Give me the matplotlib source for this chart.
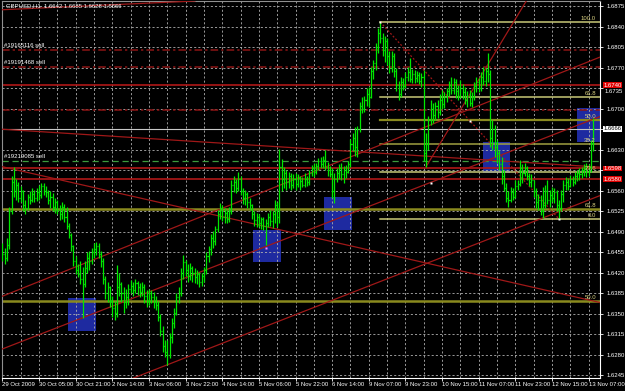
import numpy as np
import matplotlib
matplotlib.use("Agg")
import matplotlib.pyplot as plt
from matplotlib.collections import LineCollection
from matplotlib.patches import Rectangle
from matplotlib.transforms import blended_transform_factory, offset_copy

# ---------------- data ----------------
title_text = "GBPUSD,H1  1.6642 1.6685 1.6628 1.6666"
first_open = 1.6460

close = [
 1.6452,1.6445,1.6468,1.6525,1.6575,1.6560,1.6570,1.6548,1.6560,1.6535,
 1.6530,1.6550,1.6545,1.6555,1.6548,1.6558,1.6552,1.6568,1.6560,1.6558,
 1.6545,1.6550,1.6532,1.6540,1.6528,1.6520,1.6532,1.6515,1.6500,1.6485,
 1.6465,1.6440,1.6425,1.6418,1.6410,1.6400,1.6428,1.6445,1.6440,1.6455,
 1.6460,1.6465,1.6452,1.6440,1.6410,1.6385,1.6395,1.6372,1.6360,1.6352,
 1.6395,1.6400,1.6385,1.6370,1.6378,1.6392,1.6398,1.6390,1.6402,1.6395,
 1.6388,1.6395,1.6380,1.6372,1.6385,1.6378,1.6370,1.6365,1.6345,1.6320,
 1.6295,1.6285,1.6280,1.6310,1.6335,1.6352,1.6378,1.6385,1.6420,1.6438,
 1.6425,1.6415,1.6428,1.6420,1.6412,1.6418,1.6405,1.6415,1.6425,1.6448,
 1.6460,1.6480,1.6475,1.6495,1.6520,1.6530,1.6515,1.6522,1.6512,1.6525,
 1.6570,1.6575,1.6565,1.6580,1.6560,1.6548,1.6555,1.6540,1.6535,1.6520,
 1.6510,1.6515,1.6505,1.6512,1.6500,1.6505,1.6515,1.6508,1.6520,1.6535,
 1.6515,1.6600,1.6580,1.6590,1.6575,1.6585,1.6570,1.6580,1.6572,1.6582,
 1.6576,1.6570,1.6580,1.6575,1.6590,1.6598,1.6592,1.6602,1.6610,1.6605,
 1.6612,1.6600,1.6595,1.6588,1.6560,1.6580,1.6590,1.6598,1.6588,1.6595,
 1.6592,1.6605,1.6640,1.6650,1.6635,1.6665,1.6705,1.6700,1.6715,1.6725,
 1.6720,1.6765,1.6778,1.6805,1.6830,1.6820,1.6800,1.6815,1.6790,1.6770,
 1.6790,1.6765,1.6740,1.6725,1.6745,1.6738,1.6755,1.6762,1.6750,1.6760,
 1.6752,1.6758,1.6748,1.6755,1.6625,1.6640,1.6680,1.6700,1.6690,1.6705,
 1.6695,1.6715,1.6708,1.6720,1.6730,1.6740,1.6732,1.6745,1.6730,1.6722,
 1.6735,1.6728,1.6715,1.6722,1.6710,1.6720,1.6738,1.6745,1.6735,1.6755,
 1.6748,1.6765,1.6760,1.6650,1.6665,1.6635,1.6625,1.6605,1.6585,1.6565,
 1.6548,1.6545,1.6558,1.6550,1.6568,1.6572,1.6598,1.6590,1.6598,1.6585,
 1.6575,1.6578,1.6560,1.6540,1.6545,1.6525,1.6535,1.6560,1.6545,1.6552,
 1.6548,1.6558,1.6535,1.6530,1.6555,1.6570,1.6575,1.6568,1.6580,1.6575,
 1.6585,1.6590,1.6588,1.6595,1.6598,1.6592,1.6600,1.6642,1.6666]

high = [
 1.6470,1.6462,1.6480,1.6533,1.6585,1.6600,1.6580,1.6575,1.6568,1.6562,
 1.6545,1.6555,1.6560,1.6565,1.6562,1.6565,1.6570,1.6573,1.6574,1.6568,
 1.6562,1.6560,1.6556,1.6548,1.6545,1.6535,1.6540,1.6538,1.6532,1.6505,
 1.6488,1.6468,1.6448,1.6435,1.6440,1.6430,1.6440,1.6455,1.6458,1.6462,
 1.6470,1.6473,1.6470,1.6458,1.6445,1.6415,1.6405,1.6398,1.6380,1.6372,
 1.6433,1.6420,1.6405,1.6395,1.6392,1.6400,1.6408,1.6405,1.6410,1.6406,
 1.6402,1.6404,1.6400,1.6390,1.6392,1.6390,1.6388,1.6380,1.6372,1.6350,
 1.6330,1.6305,1.6305,1.6318,1.6342,1.6360,1.6385,1.6395,1.6428,1.6450,
 1.6442,1.6435,1.6437,1.6432,1.6428,1.6425,1.6422,1.6420,1.6430,1.6455,
 1.6466,1.6486,1.6492,1.6500,1.6528,1.6539,1.6535,1.6530,1.6528,1.6532,
 1.6578,1.6586,1.6580,1.6592,1.6585,1.6565,1.6561,1.6558,1.6548,1.6538,
 1.6525,1.6522,1.6520,1.6516,1.6515,1.6512,1.6522,1.6527,1.6526,1.6544,
 1.6540,1.6631,1.6615,1.6601,1.6596,1.6592,1.6590,1.6588,1.6590,1.6588,
 1.6586,1.6584,1.6590,1.6586,1.6595,1.6604,1.6607,1.6608,1.6616,1.6618,
 1.6620,1.6630,1.6609,1.6602,1.6598,1.6590,1.6598,1.6605,1.6607,1.6602,
 1.6604,1.6610,1.6648,1.6659,1.6668,1.6670,1.6712,1.6720,1.6722,1.6735,
 1.6737,1.6772,1.6784,1.6812,1.6838,1.6848,1.6830,1.6825,1.6820,1.6798,
 1.6798,1.6795,1.6770,1.6748,1.6754,1.6752,1.6762,1.6771,1.6787,1.6768,
 1.6766,1.6764,1.6762,1.6761,1.6766,1.6659,1.6688,1.6715,1.6710,1.6712,
 1.6715,1.6725,1.6732,1.6728,1.6735,1.6748,1.6754,1.6752,1.6750,1.6740,
 1.6749,1.6742,1.6737,1.6730,1.6732,1.6728,1.6745,1.6754,1.6752,1.6762,
 1.6771,1.6770,1.6795,1.6766,1.6681,1.6672,1.6647,1.6630,1.6618,1.6595,
 1.6573,1.6560,1.6566,1.6565,1.6578,1.6578,1.6612,1.6606,1.6607,1.6603,
 1.6590,1.6588,1.6578,1.6565,1.6555,1.6552,1.6566,1.6570,1.6578,1.6562,
 1.6566,1.6564,1.6561,1.6545,1.6562,1.6578,1.6583,1.6582,1.6587,1.6586,
 1.6592,1.6595,1.6598,1.6601,1.6605,1.6607,1.6606,1.6647,1.6685]

low = [
 1.6440,1.6435,1.6440,1.6460,1.6520,1.6550,1.6545,1.6540,1.6540,1.6525,
 1.6520,1.6528,1.6538,1.6540,1.6540,1.6542,1.6545,1.6548,1.6552,1.6550,
 1.6538,1.6530,1.6525,1.6522,1.6520,1.6510,1.6512,1.6506,1.6495,1.6480,
 1.6458,1.6432,1.6418,1.6412,1.6400,1.6343,1.6395,1.6420,1.6425,1.6435,
 1.6445,1.6450,1.6445,1.6430,1.6400,1.6375,1.6370,1.6362,1.6345,1.6340,
 1.6345,1.6380,1.6370,1.6352,1.6360,1.6365,1.6385,1.6380,1.6385,1.6382,
 1.6378,1.6380,1.6368,1.6362,1.6365,1.6368,1.6360,1.6357,1.6338,1.6312,
 1.6285,1.6276,1.6263,1.6275,1.6300,1.6325,1.6348,1.6368,1.6380,1.6410,
 1.6415,1.6405,1.6408,1.6405,1.6402,1.6400,1.6396,1.6398,1.6405,1.6418,
 1.6438,1.6450,1.6462,1.6468,1.6490,1.6512,1.6508,1.6505,1.6505,1.6506,
 1.6520,1.6558,1.6556,1.6560,1.6552,1.6538,1.6535,1.6530,1.6527,1.6512,
 1.6500,1.6498,1.6498,1.6495,1.6493,1.6467,1.6498,1.6500,1.6496,1.6505,
 1.6498,1.6505,1.6560,1.6565,1.6562,1.6565,1.6562,1.6565,1.6561,1.6566,
 1.6562,1.6566,1.6566,1.6568,1.6570,1.6585,1.6584,1.6588,1.6596,1.6598,
 1.6598,1.6595,1.6585,1.6583,1.6548,1.6539,1.6575,1.6580,1.6578,1.6574,
 1.6582,1.6590,1.6600,1.6628,1.6620,1.6618,1.6660,1.6693,1.6695,1.6705,
 1.6703,1.6718,1.6750,1.6766,1.6795,1.6812,1.6790,1.6780,1.6775,1.6761,
 1.6762,1.6754,1.6730,1.6715,1.6720,1.6732,1.6735,1.6748,1.6745,1.6744,
 1.6744,1.6745,1.6742,1.6737,1.6610,1.6601,1.6630,1.6672,1.6675,1.6680,
 1.6685,1.6690,1.6700,1.6702,1.6712,1.6722,1.6725,1.6726,1.6718,1.6715,
 1.6718,1.6716,1.6708,1.6703,1.6704,1.6703,1.6715,1.6728,1.6728,1.6730,
 1.6740,1.6738,1.6745,1.6635,1.6630,1.6618,1.6608,1.6595,1.6572,1.6559,
 1.6540,1.6532,1.6540,1.6544,1.6548,1.6561,1.6568,1.6573,1.6585,1.6578,
 1.6568,1.6566,1.6550,1.6530,1.6527,1.6518,1.6514,1.6530,1.6538,1.6532,
 1.6540,1.6539,1.6525,1.6512,1.6525,1.6540,1.6562,1.6561,1.6566,1.6568,
 1.6572,1.6576,1.6578,1.6582,1.6585,1.6584,1.6586,1.6592,1.6628]

time_tick_idx = [0, 16, 32, 48, 64, 80, 96, 112, 128, 144, 160, 176, 192, 208, 224, 240, 256]
time_tick_lbl = ["29 Oct 2009", "30 Oct 05:00", "30 Oct 21:00", "2 Nov 14:00", "3 Nov 06:00",
                 "3 Nov 22:00", "4 Nov 14:00", "5 Nov 06:00", "5 Nov 22:00", "6 Nov 14:00",
                 "9 Nov 07:00", "9 Nov 23:00", "10 Nov 15:00", "11 Nov 07:00", "11 Nov 23:00",
                 "12 Nov 15:00", "13 Nov 07:00"]
price_ticks = [1.6245, 1.6280, 1.6315, 1.6350, 1.6385, 1.6420, 1.6455, 1.6490, 1.6525, 1.6560,
               1.6595, 1.6630, 1.6665, 1.6700, 1.6735, 1.6770, 1.6805, 1.6840, 1.6875]
hidden_tick_labels = [1.6595, 1.6665]   # covered by the price markers
nudged_tick_labels = [1.6735]           # sits just under the 1.6740 marker

sell_names = ["#19165116 sell", "#19191468 sell", "#19219085 sell"]
sell_levels = [1.6800, 1.6772, 1.6611]
extra_dashdot_levels = [1.6697]
stop_levels = [1.6740, 1.6598, 1.6580]
bid_price = 1.6666

# trend lines: (bar index, price) anchor pairs
trend_lines = [((0, 1.6601), (259, 1.6371)),
               ((0, 1.6380), (250, 1.6771)),
               ((0, 1.6665), (250, 1.6603)),
               ((0, 1.6290), (250, 1.6670)),
               ((57, 1.6240), (250, 1.6535)),
               ((0, 1.6869), (79, 1.6883))]
trend_ray = ((185, 1.6601), (226, 1.6866))

fibo1_high = (165, 1.6848)
fibo1_low = (243, 1.6512)
fibo1_levels = [0.0, 23.6, 38.2, 50.0, 61.8, 100.0]
fibo2_names = ["61.8", "50.0"]
fibo2_prices = [1.6529, 1.6372]

boxes = [(28.6, 40.9, 1.6321, 1.6377),
         (109.4, 121.7, 1.6438, 1.6493),
         (140.4, 152.7, 1.6493, 1.6549),
         (209.9, 221.7, 1.6590, 1.6643),
         (250.9, 262.5, 1.6643, 1.6701)]
anchor_dots = [(165, 1.6848), (243, 1.6512), (204.2, 1.6679), (187.2, 1.6573)]
pink_dot = (115.1, 1.6462)

# ---------------- fonts ----------------
FONT = ['Liberation Sans', 'DejaVu Sans']
FS = 4.3

# ---------------- figure ----------------
fig = plt.figure(figsize=(6.25, 3.91), dpi=100)
fig.patch.set_facecolor('black')
ax = fig.add_axes([2 / 625, 13 / 391, 598 / 625, 377 / 391])
ax.set_facecolor('black')
ax.set_xlim(-0.175, 260.96)
ax.set_ylim(1.62404, 1.68839)

# grid
for p in price_ticks:
    ax.axhline(p, color='#b0b0b0', lw=0.6, ls=(0, (2.5, 2.5)), zorder=1.2)
for gi in range(0, 260, 8):
    ax.axvline(gi, color='#b0b0b0', lw=0.6, ls=(0, (2.5, 2.5)), zorder=1.2)

# boxes
for x0, x1, p0, p1 in boxes:
    ax.add_patch(Rectangle((x0, p0), x1 - x0, p1 - p0, facecolor='#1e2aa0', edgecolor='none', zorder=1))

# horizontal order lines
for lvl in sell_levels[:2] + extra_dashdot_levels:
    ax.axhline(lvl, color='#8c1414', lw=1.1, ls=(0, (5, 2, 1.5, 2)), zorder=2)
ax.axhline(sell_levels[2], color='#3c9a3c', lw=0.9, ls=(0, (5, 3)), zorder=2)
for lvl in stop_levels:
    ax.axhline(lvl, color='#b01818', lw=1.2, zorder=2)
ax.axhline(bid_price, color='#c8c8c8', lw=0.8, zorder=2)

for name, lvl in zip(sell_names, sell_levels):
    ax.annotate(name, (0.8, lvl), xytext=(0, 1.2), textcoords='offset points',
                color='white', fontsize=FS, family=FONT, ha='left', va='bottom', zorder=8)

# fibo 1
fh_i, fh_p = fibo1_high
fl_i, fl_p = fibo1_low
fib_colors = {0.0: '#c8c878', 23.6: '#c8c878', 38.2: '#a0a040', 50.0: '#8a8a20', 61.8: '#c8c878', 100.0: '#c8c878'}
for lv in fibo1_levels:
    p = fl_p + (fh_p - fl_p) * lv / 100.0
    ax.plot([fh_i, 261], [p, p], color=fib_colors[lv], lw=1.1 if lv != 50.0 else 1.6, zorder=2.5)
    ax.annotate(f"{lv:.1f}", (259.2, p), xytext=(0, 0.8), textcoords='offset points',
                color='#d8d080', fontsize=FS, family=FONT, ha='right', va='bottom', zorder=8)
ax.plot([fh_i, fl_i], [fh_p, fl_p], color='#a01818', lw=0.9, ls=(0, (1.5, 1.5)), zorder=2.6)

# fibo 2 (only two visible levels)
for name, p in zip(fibo2_names, fibo2_prices):
    ax.axhline(p, color='#8a8a1e', lw=1.8, zorder=2.5)
    ax.annotate(name, (259.2, p), xytext=(0, 0.8), textcoords='offset points',
                color='#d8d080', fontsize=FS, family=FONT, ha='right', va='bottom', zorder=8)

# trend lines
for a, b in trend_lines:
    ax.axline(a, b, color='#a01818', lw=0.9, zorder=3)
(ra_i, ra_p), (rb_i, rb_p) = trend_ray
ax.plot([ra_i, ra_i + 4 * (rb_i - ra_i)], [ra_p, ra_p + 4 * (rb_p - ra_p)], color='#a01818', lw=0.9, zorder=3)

# OHLC bars
n = len(close)
opens = [first_open] + close[:-1]
segs = []
for i in range(n):
    hi = max(high[i], opens[i], close[i])
    lo = min(low[i], opens[i], close[i])
    segs.append([(i, lo), (i, hi)])
    segs.append([(i - 0.45, opens[i]), (i, opens[i])])
    segs.append([(i, close[i]), (i + 0.45, close[i])])
ax.add_collection(LineCollection(segs, colors='#00e800', linewidths=0.9, zorder=5))

# anchor dots
for di, dp in anchor_dots:
    ax.plot(di, dp, marker='s', ms=1.6, color='white', mec='none', zorder=7)
ax.plot(*pink_dot, marker='s', ms=1.6, color='#ff80ff', mec='none', zorder=7)

# title
ax.text(0.006, 0.993, title_text, transform=ax.transAxes, color='white', fontsize=FS,
        family=FONT, ha='left', va='top', zorder=9)

# axes & ticks
for side in ['right', 'bottom']:
    ax.spines[side].set_color('white')
    ax.spines[side].set_linewidth(0.8)
for side in ['left', 'top']:
    ax.spines[side].set_color('#909090')
    ax.spines[side].set_linewidth(0.8)
ax.yaxis.tick_right()
ax.set_yticks(price_ticks)
ax.set_yticklabels(["" if (p in hidden_tick_labels or p in nudged_tick_labels) else f"{p:.4f}"
                    for p in price_ticks])
ax.set_xticks(time_tick_idx)
ax.set_xticklabels(time_tick_lbl)
ax.tick_params(axis='both', colors='white', labelcolor='white', labelsize=FS, length=2, width=0.6)
ax.tick_params(axis='y', pad=2.5)
ax.tick_params(axis='x', pad=1.2)
for lab in ax.get_xticklabels():
    lab.set_ha('left')
    lab.set_family(FONT)
for lab in ax.get_yticklabels():
    lab.set_family(FONT)

tr = blended_transform_factory(ax.transAxes, ax.transData)
for p in nudged_tick_labels:
    ax.text(1.0077, p, f"{p:.4f}", transform=offset_copy(tr, fig=fig, x=0, y=-2.4, units='points'),
            color='white', fontsize=FS, family=FONT, ha='left', va='center', clip_on=False, zorder=9)

# price-scale markers
for p in stop_levels:
    ax.text(1.006, p, f"{p:.4f}", transform=tr, color='white', fontsize=FS, family=FONT,
            ha='left', va='center', clip_on=False, zorder=10,
            bbox=dict(boxstyle='square,pad=0.08', fc='#e00000', ec='none'))
ax.text(1.006, bid_price, f"{bid_price:.4f}", transform=tr, color='black', fontsize=FS, family=FONT,
        ha='left', va='center', clip_on=False, zorder=10,
        bbox=dict(boxstyle='square,pad=0.08', fc='white', ec='none'))

fig.savefig('out.png', dpi=100, facecolor='black')
